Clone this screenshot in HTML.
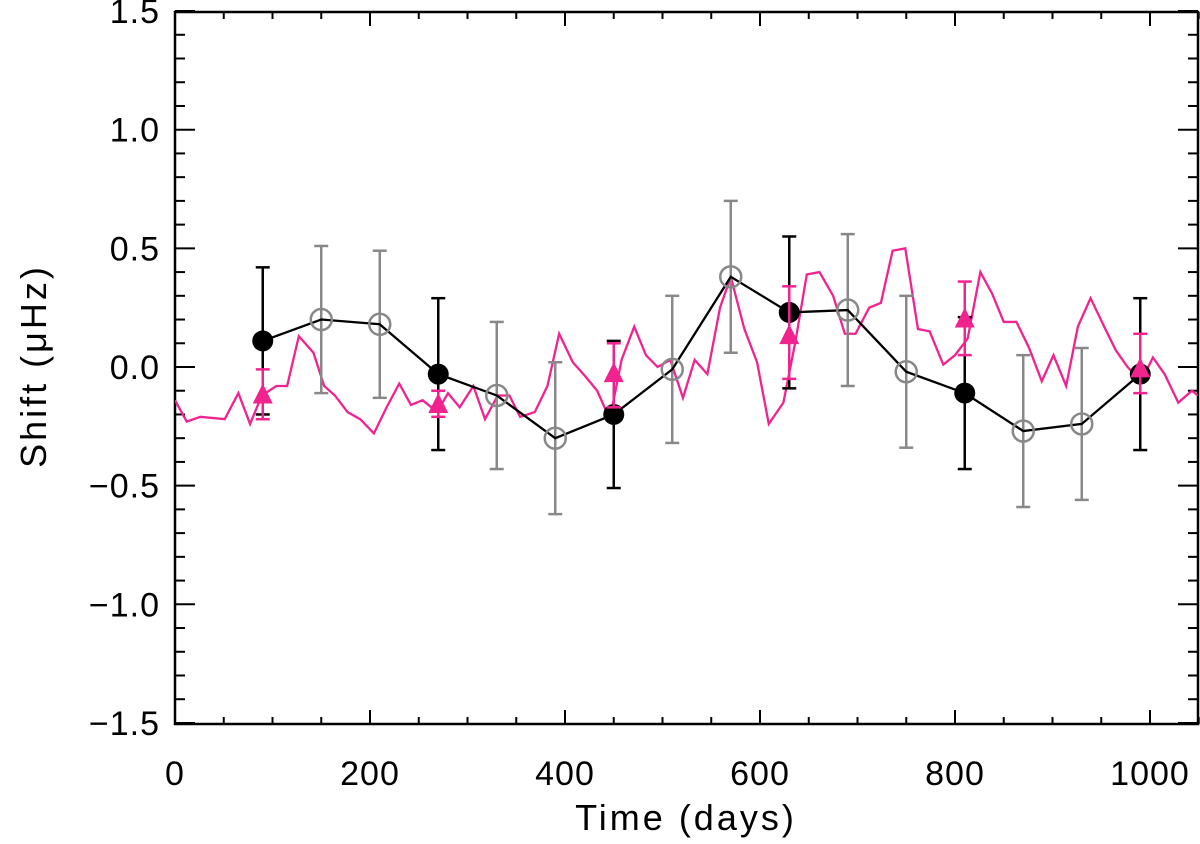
<!DOCTYPE html>
<html><head><meta charset="utf-8"><style>
body{margin:0;background:#fff}
text{font-family:"Liberation Sans",sans-serif}
</style></head><body>
<svg id="chart" width="1200" height="839" xmlns="http://www.w3.org/2000/svg">
</svg>
<script>
const lineDays=[0,12,26,51,65,77,89,104,115,127,142,153,164,177,190,204,217,230,242,254,269,280,292,306,318,331,343,354,369,382,394,408,421,433,446,458,471,483,495,508,521,533,546,559,570,584,597,609,624,636,648,661,675,687,698,712,724,736,749,762,774,788,800,813,826,838,850,863,876,889,901,914,926,939,953,965,977,991,1003,1015,1029,1043,1049];
const lineVals=[-0.14,-0.23,-0.21,-0.22,-0.11,-0.24,-0.12,-0.08,-0.08,0.13,0.06,-0.08,-0.12,-0.19,-0.22,-0.28,-0.17,-0.07,-0.16,-0.14,-0.19,-0.11,-0.17,-0.08,-0.22,-0.12,-0.12,-0.21,-0.19,-0.08,0.14,0.02,-0.04,-0.10,-0.22,0.03,0.17,0.05,0.00,0.03,-0.13,0.03,-0.03,0.25,0.38,0.16,0.02,-0.24,-0.15,0.10,0.39,0.40,0.30,0.14,0.14,0.25,0.27,0.49,0.50,0.16,0.15,0.01,0.05,0.12,0.40,0.31,0.19,0.19,0.08,-0.06,0.05,-0.08,0.17,0.29,0.17,0.07,0.00,-0.06,0.04,-0.03,-0.15,-0.10,-0.12];
const ptDays=[90,150,210,270,330,390,450,510,570,630,690,750,810,870,930,990];
const ptVals=[0.11,0.20,0.18,-0.03,-0.12,-0.30,-0.20,-0.01,0.38,0.23,0.24,-0.02,-0.11,-0.27,-0.24,-0.03];
const ptErr=[0.31,0.31,0.31,0.32,0.31,0.32,0.31,0.31,0.32,0.32,0.32,0.32,0.32,0.32,0.32,0.32];
const ptFilled=[1,0,0,1,0,0,1,0,0,1,0,0,1,0,0,1];
const triDays=[90,270,450,630,810,990];
const triVals=[-0.12,-0.16,-0.03,0.13,0.20,-0.01];
const triHi=[-0.01,-0.10,0.10,0.34,0.36,0.14];
const triLo=[-0.22,-0.21,-0.17,-0.05,0.05,-0.11];
const xTicks=[0,200,400,600,800,1000];
const yTicks=[-1.5,-1.0,-0.5,0.0,0.5,1.0,1.5];

const svg=document.getElementById('chart');
const NS='http://www.w3.org/2000/svg';
const L=175,R=1198,T=12,B=724;
const X=d=>L+d*0.975;
const Y=v=>367-v*237.3;
function el(tag,attrs,parent){const e=document.createElementNS(NS,tag);for(const k in attrs)e.setAttribute(k,attrs[k]);(parent||svg).appendChild(e);return e;}

const axes=el('g',{});


const frame=el('rect',{x:L,y:T,width:R-L,height:B-T,fill:'none',stroke:'#000','stroke-width':2.5},axes);


for(let d=0;d<=1050;d+=50){
  const len=(d%200===0)?14:7;
  el('line',{x1:X(d),x2:X(d),y1:B,y2:B-len,stroke:'#000','stroke-width':2},axes);
  el('line',{x1:X(d),x2:X(d),y1:T,y2:T+len,stroke:'#000','stroke-width':2},axes);
}
for(let i=-15;i<=15;i++){
  const v=i/10,len=(i%5===0)?20:10;
  el('line',{x1:L,x2:L+len,y1:Y(v),y2:Y(v),stroke:'#000','stroke-width':2},axes);
  el('line',{x1:R,x2:R-len,y1:Y(v),y2:Y(v),stroke:'#000','stroke-width':2},axes);
}
xTicks.forEach(t=>{const e=el('text',{x:X(t),y:785,'font-size':34,'text-anchor':'middle','letter-spacing':1},axes);e.textContent=t;

});
yTicks.forEach(t=>{const e=el('text',{x:160,y:Y(t)+12,'font-size':34,'text-anchor':'end','letter-spacing':1},axes);e.textContent=(t<0?'\u2212':'')+Math.abs(t).toFixed(1);

});
const xt=el('text',{x:686,y:830,'font-size':36,'text-anchor':'middle','letter-spacing':3},axes);xt.textContent='Time (days)';


const yt=el('text',{x:0,y:0,'font-size':36,'text-anchor':'middle','letter-spacing':3,transform:'translate(46,366) rotate(-90)'},axes);yt.textContent='Shift (\u03bcHz)';



const cp=el('clipPath',{id:'clip'});el('rect',{x:L,y:T,width:R-L,height:B-T},cp);
const ml=el('polyline',{points:lineDays.map((d,i)=>X(d)+','+Y(lineVals[i])).join(' '),fill:'none',stroke:'#f0238f','stroke-width':2.3,'clip-path':'url(#clip)'});



ptDays.forEach((d,i)=>{
  const c=ptFilled[i]?'#000':'#888';
  const g=el('g',{stroke:c,'stroke-width':2.5});
  
  
  const hi=Y(ptVals[i]+ptErr[i]),lo=Y(ptVals[i]-ptErr[i]);
  el('line',{x1:X(d),x2:X(d),y1:hi,y2:lo},g);
  el('line',{x1:X(d)-7,x2:X(d)+7,y1:hi,y2:hi},g);
  el('line',{x1:X(d)-7,x2:X(d)+7,y1:lo,y2:lo},g);
});
const bl=el('polyline',{points:ptDays.map((d,i)=>X(d)+','+Y(ptVals[i])).join(' '),fill:'none',stroke:'#000','stroke-width':2.3});


ptDays.forEach((d,i)=>{
  const c=ptFilled[i]?el('circle',{cx:X(d),cy:Y(ptVals[i]),r:10.5,fill:'#000'}):el('circle',{cx:X(d),cy:Y(ptVals[i]),r:10.5,fill:'none',stroke:'#888','stroke-width':2.5});
  
  
});
triDays.forEach((d,i)=>{
  const g=el('g',{stroke:'#f0238f','stroke-width':2.5});
  
  
  const x=X(d),hi=Y(triHi[i]),lo=Y(triLo[i]),y=Y(triVals[i]);
  el('line',{x1:x,x2:x,y1:hi,y2:lo},g);
  el('line',{x1:x-7,x2:x+7,y1:hi,y2:hi},g);
  el('line',{x1:x-7,x2:x+7,y1:lo,y2:lo},g);
  el('polygon',{points:`${x},${y-12} ${x-10},${y+8} ${x+10},${y+8}`,fill:'#f0238f',stroke:'none'},g);
});
</script>
</body></html>
